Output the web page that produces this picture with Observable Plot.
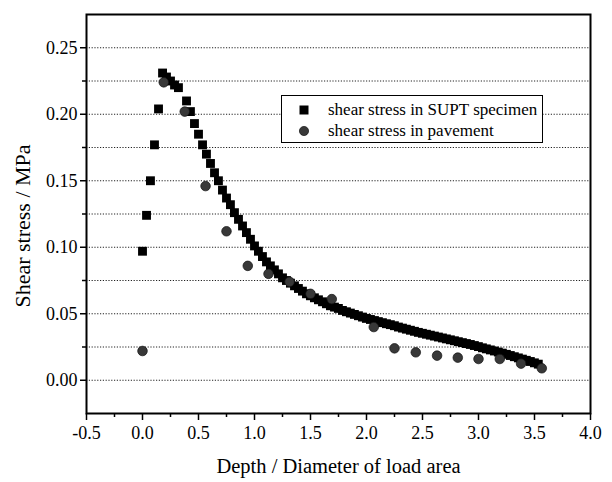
<!DOCTYPE html>
<html>
<head>
<meta charset="utf-8">
<script src="https://cdn.jsdelivr.net/npm/d3@7"></script>
<script src="https://cdn.jsdelivr.net/npm/@observablehq/plot@0.6"></script>
<style>
  html, body { margin: 0; padding: 0; background: white; }
  #wrap { position: relative; width: 612px; height: 482px; }
  #legend {
    position: absolute; left: 281px; top: 95px; width: 260px; height: 46px;
    border: 1.5px solid #000; background: #fff;
    font-family: "Liberation Serif", serif; font-size: 17px; color: #000;
  }
  #legend .row { position: absolute; left: 0; height: 22px; display: flex; align-items: center; }
  #legend svg { position: absolute; left: 15px; }
  #legend span { position: absolute; left: 46px; white-space: nowrap; }
</style>
</head>
<body>
<div id="wrap"></div>
<script>
// Series: shear stress in SUPT specimen (squares)
const depthSUPT = [0, 0.036, 0.071, 0.107, 0.143, 0.179, 0.214, 0.25, 0.286, 0.321,
  0.393, 0.428, 0.464, 0.5, 0.536, 0.571, 0.607, 0.643, 0.678, 0.714,
  0.75, 0.785, 0.821, 0.857, 0.893, 0.928, 0.964, 1.0, 1.035, 1.071,
  1.107, 1.142, 1.178, 1.214, 1.25, 1.285, 1.321, 1.357, 1.392, 1.428,
  1.464, 1.499, 1.535, 1.571, 1.607, 1.642, 1.678, 1.714, 1.749, 1.785,
  1.821, 1.856, 1.892, 1.928, 1.964, 1.999, 2.035, 2.071, 2.106, 2.142,
  2.178, 2.213, 2.249, 2.285, 2.321, 2.356, 2.392, 2.428, 2.463, 2.499,
  2.535, 2.57, 2.606, 2.642, 2.678, 2.713, 2.749, 2.785, 2.82, 2.856,
  2.892, 2.927, 2.963, 2.999, 3.035, 3.07, 3.106, 3.142, 3.177, 3.213,
  3.249, 3.284, 3.32, 3.356, 3.392, 3.427, 3.463, 3.499, 3.534];
const stressSUPT = [0.097, 0.124, 0.150, 0.177, 0.204, 0.231, 0.228, 0.225, 0.222, 0.220,
  0.210, 0.202, 0.193, 0.185, 0.177, 0.170, 0.163, 0.156, 0.150, 0.143,
  0.137, 0.132, 0.126, 0.121, 0.116, 0.111, 0.106, 0.101, 0.097, 0.093,
  0.089, 0.086, 0.083, 0.080, 0.077, 0.075, 0.073, 0.071, 0.069, 0.067,
  0.065, 0.0635, 0.062, 0.0605, 0.059, 0.0575, 0.056, 0.055, 0.054, 0.0525,
  0.0515, 0.0505, 0.0495, 0.0485, 0.0475, 0.0465, 0.0457, 0.0449, 0.0441, 0.0433,
  0.0425, 0.0418, 0.0410, 0.0400, 0.0392, 0.0384, 0.0376, 0.0368, 0.0360, 0.0353,
  0.0346, 0.0339, 0.0332, 0.0325, 0.0318, 0.0311, 0.0304, 0.0297, 0.0290, 0.0283,
  0.0276, 0.0269, 0.0261, 0.0253, 0.0244, 0.0236, 0.0228, 0.0220, 0.0212, 0.0204,
  0.0195, 0.0186, 0.0177, 0.0168, 0.0159, 0.0150, 0.0141, 0.0131, 0.0121];

// Series: shear stress in pavement (circles)
const depthPave = [0, 0.19, 0.377, 0.563, 0.75, 0.94, 1.125, 1.313, 1.5, 1.69,
  2.065, 2.25, 2.44, 2.63, 2.815, 3.0, 3.19, 3.38, 3.565];
const stressPave = [0.022, 0.224, 0.202, 0.146, 0.112, 0.086, 0.080, 0.074, 0.065, 0.061,
  0.040, 0.024, 0.021, 0.0185, 0.017, 0.016, 0.016, 0.0125, 0.009];

// Axis ticks
const xMajor = [-0.5, 0, 0.5, 1, 1.5, 2, 2.5, 3, 3.5, 4];
const xMinor = [-0.25, 0.25, 0.75, 1.25, 1.75, 2.25, 2.75, 3.25, 3.75];
const yMajor = [0, 0.05, 0.10, 0.15, 0.20, 0.25];
const yMinor = [0.025, 0.075, 0.125, 0.175, 0.225];
const yGrid = [0, 0.025, 0.05, 0.075, 0.10, 0.125, 0.15, 0.175, 0.20, 0.225, 0.25];

const labels = {
  x: "Depth / Diameter of load area",
  y: "Shear stress / MPa",
  s1: "shear stress in SUPT specimen",
  s2: "shear stress in pavement"
};

const supt = depthSUPT.map((d, i) => ({depth: d, stress: stressSUPT[i]}));
const pave = depthPave.map((d, i) => ({depth: d, stress: stressPave[i]}));

const chart = Plot.plot({
  width: 612,
  height: 482,
  marginLeft: 86,
  marginRight: 22,
  marginTop: 14,
  marginBottom: 69,
  style: {fontFamily: "Liberation Serif, serif", fontSize: "18px", background: "white", color: "black"},
  x: {domain: [-0.5, 4.0]},
  y: {domain: [-0.025, 0.275]},
  marks: [
    Plot.ruleY(yGrid, {stroke: "#222", strokeWidth: 1, strokeDasharray: "1.2,1.6"}),
    Plot.axisX(xMajor, {tickSize: 7, tickPadding: 6, tickFormat: d => d.toFixed(1), label: null, strokeWidth: 1.5, fontSize: 18}),
    Plot.axisX(xMinor, {tickSize: 4, tickFormat: () => "", label: null, strokeWidth: 1.5}),
    Plot.axisY(yMajor, {tickSize: 6, tickPadding: 3, tickFormat: d => d.toFixed(2), label: null, strokeWidth: 1.5, fontSize: 18}),
    Plot.axisY(yMinor, {tickSize: 4, tickFormat: () => "", label: null, strokeWidth: 1.5}),
    Plot.frame({stroke: "black", strokeWidth: 2}),
    Plot.dot(supt, {x: "depth", y: "stress", symbol: "square", r: 5, fill: "black", stroke: "none"}),
    Plot.dot(pave, {x: "depth", y: "stress", symbol: "circle", r: 4.8, fill: "#383838", stroke: "#111", strokeWidth: 0.7}),
    Plot.text([labels.x], {frameAnchor: "bottom", dy: 59, text: d => d, fontSize: 20.5, fill: "black"}),
    Plot.text([labels.y], {frameAnchor: "left", dx: -64, dy: 12, rotate: -90, textAnchor: "middle", text: d => d, fontSize: 22, fill: "black"})
  ]
});

const wrap = document.getElementById("wrap");
wrap.appendChild(chart);

const legend = document.createElement("div");
legend.id = "legend";
legend.innerHTML = `
  <div class="row" style="top:3px;width:100%">
    <svg width="14" height="14" viewBox="0 0 14 14"><rect x="2.5" y="2.5" width="9" height="9" fill="black"/></svg>
    <span>${labels.s1}</span>
  </div>
  <div class="row" style="top:24px;width:100%">
    <svg width="14" height="14" viewBox="0 0 14 14"><circle cx="7" cy="7" r="4.6" fill="#383838" stroke="#111" stroke-width="0.7"/></svg>
    <span>${labels.s2}</span>
  </div>`;
wrap.appendChild(legend);
</script>
</body>
</html>
